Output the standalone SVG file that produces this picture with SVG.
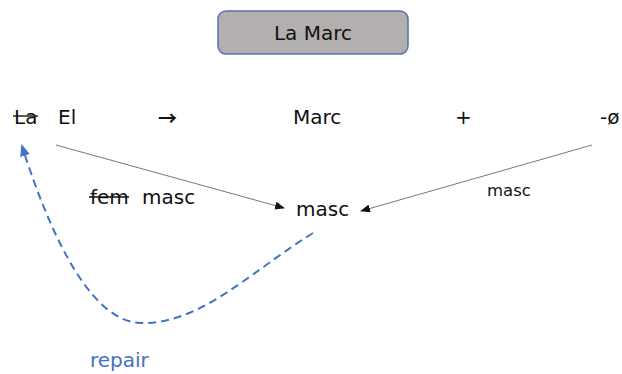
<svg xmlns="http://www.w3.org/2000/svg" width="622" height="374" viewBox="0 0 622 374">
<defs>
<style>
text{font-family:"DejaVu Sans","Liberation Sans",sans-serif;fill:#111;}
.t{font-size:20px;}
.s{font-size:16.5px;}
.arr{font-family:"Noto Sans CJK JP",sans-serif;font-size:19px;font-weight:bold;}
.strike{stroke:#111;stroke-width:1.4;}
.conn{stroke:#777;stroke-width:1;fill:none;}
.rep{stroke:#4472c4;stroke-width:2;stroke-dasharray:8,5;fill:none;}
</style>
<marker id="ah" markerWidth="10" markerHeight="8" refX="9" refY="4" orient="auto" markerUnits="userSpaceOnUse">
<path d="M0,0 L10,4 L0,8 Z" fill="#111"/>
</marker>
<marker id="ahb" markerWidth="12" markerHeight="10" refX="10" refY="5" orient="auto" markerUnits="userSpaceOnUse">
<path d="M0,0 L12,5 L0,10 Z" fill="#4472c4"/>
</marker>
</defs>
<g id="title">
<rect x="218" y="11" width="190" height="43" rx="8" fill="#b3afae" stroke="#4f73aa" stroke-width="1.5"/>
<text class="t" x="313" y="40" text-anchor="middle">La Marc</text>
</g>
<g id="row">
<text class="t" x="14" y="124">La</text>
<line class="strike" x1="13" y1="116" x2="38" y2="116"/>
<text class="t" x="58" y="124">El</text>
<text class="arr" x="158" y="126">→</text>
<text class="t" x="293" y="124">Marc</text>
<text class="t" x="455" y="124">+</text>
<text class="t" x="600" y="124">-ø</text>
</g>
<g id="femmasc">
<text class="t" x="90" y="204">fem</text>
<line class="strike" x1="89" y1="197" x2="129" y2="197"/>
<text class="t" x="142" y="204">masc</text>
</g>
<g id="masc-center">
<text class="t" x="296" y="216">masc</text>
</g>
<g id="masc-right">
<text class="s" x="487" y="196">masc</text>
</g>
<g id="repair">
<text class="t" x="90" y="367" style="fill:#4472c4">repair</text>
</g>
<g id="connectors">
<line class="conn" x1="56" y1="145" x2="284" y2="208" marker-end="url(#ah)"/>
<line class="conn" x1="592" y1="145" x2="361" y2="211" marker-end="url(#ah)"/>
<path class="rep" d="M313,233 C250,272 200,325 140,323 C95,321 55,250 22,146" marker-end="url(#ahb)"/>
</g>
</svg>
